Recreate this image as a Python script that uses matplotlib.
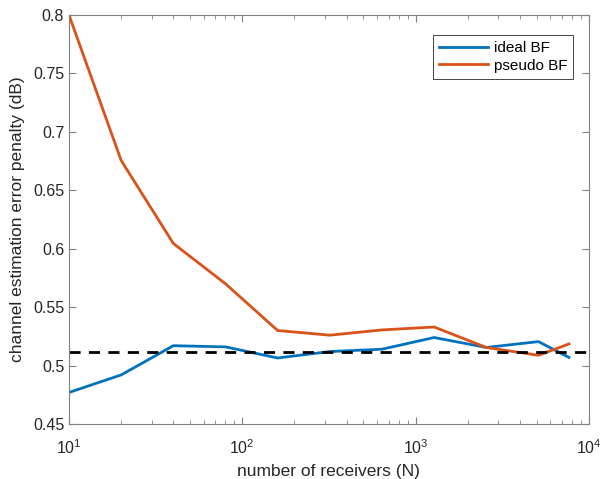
import matplotlib
matplotlib.use("Agg")
import matplotlib.pyplot as plt

plt.rcParams['font.family'] = ['Liberation Sans', 'DejaVu Sans']

# data
n_rx = [10, 20, 40, 80, 160, 320, 640, 1280, 2560, 5120, 7680]
ideal_bf = [0.477, 0.492, 0.517, 0.516, 0.5065, 0.512, 0.514, 0.524, 0.5155, 0.5205, 0.507]
pseudo_bf = [0.800, 0.6755, 0.6045, 0.570, 0.530, 0.526, 0.5305, 0.533, 0.5155, 0.5088, 0.5185]
ref_level = 0.5113

fig = plt.figure(figsize=(6.02, 4.79), dpi=100)
ax = fig.add_axes([0.1146, 0.1148, 0.8635, 0.854])

ax.plot(n_rx, ideal_bf, color='#0072BD', lw=2, label='ideal BF')
ax.plot(n_rx, pseudo_bf, color='#D95319', lw=2, label='pseudo BF')
ax.axhline(ref_level, color='k', ls='--', lw=2, dashes=(4, 3))

ax.set_xscale('log')
ax.set_xlim(10, 1e4)
ax.set_ylim(0.45, 0.8)
ax.set_yticks([0.45, 0.5, 0.55, 0.6, 0.65, 0.7, 0.75, 0.8])
ax.set_yticklabels(['0.45', '0.5', '0.55', '0.6', '0.65', '0.7', '0.75', '0.8'])

gray = '#262626'
for s in ax.spines.values():
    s.set_color('#808080')
    s.set_linewidth(0.8)
ax.tick_params(which='both', direction='in', top=True, right=True,
               colors='#808080', labelcolor=gray, labelsize=11.5)
ax.tick_params(which='major', length=5)
ax.tick_params(which='minor', length=3)
ax.tick_params(axis='x', which='major', pad=10)

ax.set_xlabel('number of receivers (N)', fontsize=12.5, color=gray, labelpad=5)
ax.set_ylabel('channel estimation error penalty (dB)', fontsize=12.5, color=gray, labelpad=6)

leg = ax.legend(loc='upper right', bbox_to_anchor=(0.985, 0.97), fontsize=11,
                fancybox=False, framealpha=1, edgecolor='#262626',
                handlelength=3.2, handletextpad=0.4, borderpad=0.4, labelspacing=0.25)
leg.get_frame().set_linewidth(0.6)

fig.savefig('out.png', dpi=100)
